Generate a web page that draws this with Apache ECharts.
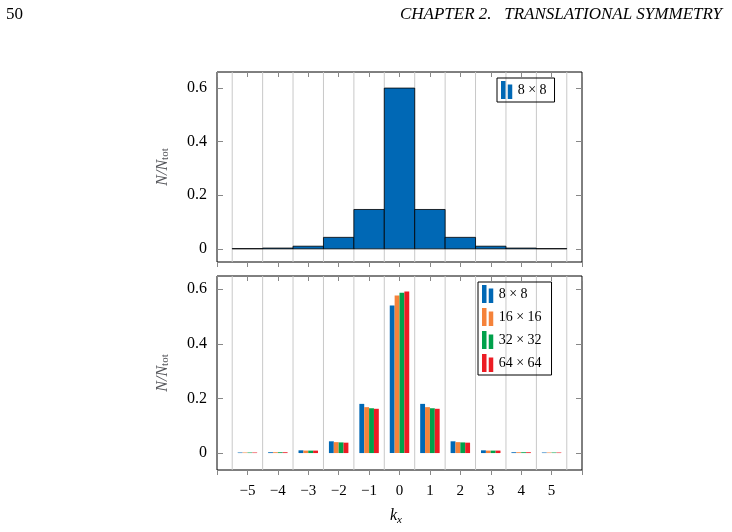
<!DOCTYPE html>
<html><head><meta charset="utf-8">
<script src="https://cdn.jsdelivr.net/npm/echarts@6/dist/echarts.min.js"></script>
<style>body{margin:0;background:#fff}#c{width:732px;height:532px}</style>
</head><body><div id="c"></div>
<script>
const kx = [-5,-4,-3,-2,-1,0,1,2,3,4,5];
const top8 = [0.001,0.003,0.01,0.043,0.147,0.600,0.147,0.043,0.01,0.003,0.001];
const s8  = [0.002,0.003,0.010,0.043,0.180,0.540,0.180,0.043,0.010,0.003,0.002];
const s16 = [0.002,0.003,0.009,0.040,0.168,0.577,0.168,0.040,0.009,0.003,0.002];
const s32 = [0.002,0.003,0.009,0.039,0.164,0.587,0.164,0.039,0.009,0.003,0.002];
const s64 = [0.002,0.003,0.009,0.038,0.162,0.591,0.162,0.038,0.009,0.003,0.002];
const names = ['8 × 8','16 × 16','32 × 32','64 × 64'];
const colors = ['#0068b5','#f5823a','#00a14b','#ec1c24'];
const gridX = [-5.5,-4.5,-3.5,-2.5,-1.5,-0.5,0.5,1.5,2.5,3.5,4.5,5.5];
const yTicks = [0,0.2,0.4,0.6];

const serif = '"Liberation Serif","DejaVu Serif",serif';
const fmt = v => v < 0 ? '−' + (-v) : String(v);
const ch = echarts.init(document.getElementById('c'));

function xAx(gi, pos, labels){
  return {type:'value', gridIndex:gi, position:pos, min:-6, max:6, interval:1,
    axisLine:{show:false, onZero:false}, splitLine:{show:false},
    axisTick:{show:true, inside:pos==='top', length:5, lineStyle:{color:'#888'}},
    axisLabel:{show:labels, formatter:v => (v<-5||v>5)?'':fmt(v), fontFamily:serif, fontSize:15, color:'#000', margin:14}};
}
function yAx(gi, pos, min, max, labels){
  return {type:'value', gridIndex:gi, position:pos, min:min, max:max,
    axisLine:{show:false, onZero:false}, splitLine:{show:false},
    axisTick:{show:true, inside:true, length:6, customValues:yTicks, lineStyle:{color:'#888'}},
    axisLabel:{show:labels, customValues:yTicks, formatter:v=>String(v), fontFamily:serif, fontSize:16, color:'#000', margin:10},
    name: labels ? '{i|N/N}{s|tot}' : '', nameLocation:'middle', nameGap:46, nameRotate:90,
    nameTextStyle:{rich:{i:{fontFamily:serif, fontStyle:'italic', fontSize:16}, s:{fontFamily:serif, fontSize:11, verticalAlign:'bottom', padding:[6,0,0,0]}}}};
}
function gridSeries(xi, yi){
  return {type:'custom', coordinateSystem:'cartesian2d', xAxisIndex:xi, yAxisIndex:yi, z:1, silent:true, data:gridX.map(v=>[v,0]),
    renderItem:(p, api) => { const x = api.coord([api.value(0), 0])[0];
      return {type:'line', shape:{x1:x, y1:p.coordSys.y, x2:x, y2:p.coordSys.y+p.coordSys.height}, style:{stroke:'#c8c8c8', lineWidth:1}}; }};
}
const ser = [gridSeries(0,0), gridSeries(2,2)];
ser.push({name:names[0], type:'custom', coordinateSystem:'cartesian2d', xAxisIndex:0, yAxisIndex:0, z:3,
  itemStyle:{color:colors[0]}, data:kx.map((k,i)=>[k, top8[i]]),
  renderItem:(p, api) => { const a = api.coord([api.value(0)-0.5, api.value(1)]); const b = api.coord([api.value(0)+0.5, 0]);
    return {type:'rect', shape:{x:a[0], y:a[1], width:b[0]-a[0], height:b[1]-a[1]}, style:{fill:colors[0], stroke:'#000', lineWidth:0.8}}; }});
[s8,s16,s32,s64].forEach((arr, si) => {
  ser.push({name:names[si], type:'custom', coordinateSystem:'cartesian2d', xAxisIndex:2, yAxisIndex:2, z:3,
    itemStyle:{color:colors[si]}, data:kx.map((k,i)=>[k, arr[i]]),
    renderItem:(p, api) => { const w = 0.16, off = (si-1.5)*w;
      const a = api.coord([api.value(0)+off-w/2, api.value(1)]); const b = api.coord([api.value(0)+off+w/2, 0]);
      return {type:'rect', shape:{x:a[0], y:a[1], width:b[0]-a[0], height:b[1]-a[1]}, style:{fill:colors[si]}}; }});
});
const icon = 'path://M0,0h4v16h-4z M6,3h4v13h-4z';
ch.setOption({
  animation:false,
  grid:[{left:217, top:72, width:365, height:190, show:true, borderColor:'#000', borderWidth:1},
        {left:217, top:276, width:365, height:194, show:true, borderColor:'#000', borderWidth:1}],
  xAxis:[xAx(0,'bottom',false), xAx(0,'top',false), xAx(1,'bottom',true), xAx(1,'top',false)],
  yAxis:[yAx(0,'left',-0.049,0.66,true), yAx(0,'right',-0.049,0.66,false), yAx(1,'left',-0.062,0.648,true), yAx(1,'right',-0.062,0.648,false)],
  legend:[
    {data:[names[0]], left:497, top:78, orient:'vertical', icon:icon, itemWidth:12, itemHeight:18, itemGap:4,
      borderColor:'#000', borderWidth:1, borderRadius:0, padding:[3,8,3,4], textStyle:{fontFamily:serif, fontSize:14, color:'#000'}, selectedMode:false},
    {data:names, left:478, top:282, orient:'vertical', icon:icon, itemWidth:12, itemHeight:18, itemGap:5,
      borderColor:'#000', borderWidth:1, borderRadius:0, padding:[3,10,3,4], textStyle:{fontFamily:serif, fontSize:14, color:'#000'}, selectedMode:false}
  ],
  graphic:[
    {type:'text', left:6, top:6, style:{text:'50', font:'17px '+serif, fill:'#000'}},
    {type:'text', right:10, top:6, style:{text:'CHAPTER 2.   TRANSLATIONAL SYMMETRY', font:'italic 17px '+serif, fill:'#000'}},
    {type:'text', left:390, top:508, style:{rich:{i:{font:'italic 16px '+serif}, s:{font:'italic 11px '+serif, padding:[8,0,0,0]}}, text:'{i|k}{s|x}'}}
  ],
  series:ser
});
</script></body></html>
